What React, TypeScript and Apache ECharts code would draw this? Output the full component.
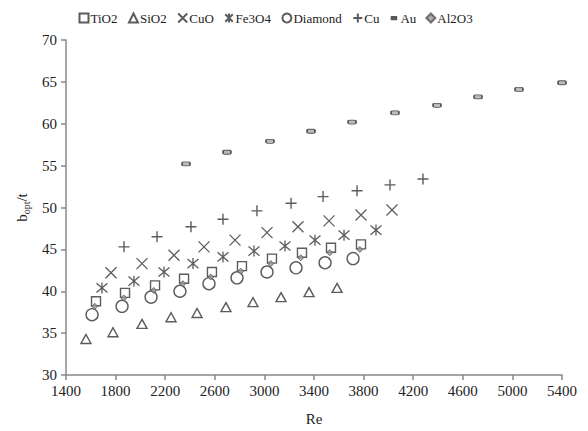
import React, { useEffect, useRef } from "react";
import * as echarts from "echarts";

const xTicksMin = 1400;
const xTicksMax = 5400;
const yMin = 30;
const yMax = 70;

const tio2Re = [1642, 1876, 2118, 2352, 2577, 2819, 3061, 3303, 3537, 3779];
const tio2B = [38.8, 39.8, 40.7, 41.5, 42.3, 43.0, 43.9, 44.6, 45.2, 45.6];

const sio2Re = [1561, 1779, 2013, 2247, 2457, 2690, 2908, 3134, 3360, 3586];
const sio2B = [34.3, 35.1, 36.1, 36.9, 37.4, 38.1, 38.7, 39.3, 39.9, 40.4];

const cuoRe = [1763, 2013, 2271, 2513, 2763, 3021, 3271, 3521, 3779, 4029];
const cuoB = [42.2, 43.3, 44.3, 45.3, 46.1, 47.0, 47.7, 48.4, 49.1, 49.7];

const fe3o4Re = [1690, 1948, 2190, 2424, 2666, 2916, 3166, 3408, 3642, 3900];
const fe3o4B = [40.4, 41.2, 42.3, 43.3, 44.1, 44.8, 45.4, 46.1, 46.7, 47.3];

const diamondRe = [1610, 1852, 2086, 2319, 2553, 2779, 3021, 3255, 3489, 3715];
const diamondB = [37.2, 38.2, 39.3, 40.0, 40.9, 41.6, 42.3, 42.8, 43.4, 43.9];

const cuRe = [1868, 2134, 2408, 2666, 2940, 3215, 3473, 3747, 4013, 4279];
const cuB = [45.3, 46.5, 47.7, 48.6, 49.6, 50.5, 51.3, 52.0, 52.7, 53.4];

const auRe = [2368, 2698, 3045, 3376, 3707, 4053, 4392, 4723, 5053, 5400];
const auB = [55.2, 56.6, 57.9, 59.1, 60.2, 61.3, 62.2, 63.2, 64.1, 64.9];

const al2o3Re = [1632, 1866, 2108, 2342, 2567, 2809, 3051, 3293, 3527, 3769];
const al2o3B = [38.2, 39.2, 40.1, 40.9, 41.7, 42.4, 43.3, 44.0, 44.6, 45.0];

const seriesNames = ["TiO2", "SiO2", "CuO", "Fe3O4", "Diamond", "Cu", "Au", "Al2O3"];

const pair = (xs: number[], ys: number[]) => xs.map((x, i) => [x, ys[i]]);

const INK = "#333";
const FONT = "'Liberation Serif', 'Times New Roman', serif";

const crossPath = "path://M0,0L10,10M10,0L0,10";
const starPath = "path://M0,0L10,10M10,0L0,10M5,-1L5,11";
const plusPath = "path://M5,0L5,10M0,5L10,5";
const auLegendIcon = "path://M0,0M10,10M2.5,4L7.5,4L7.5,6.5L2.5,6.5Z";

export default function App() {
  const ref = useRef<HTMLDivElement>(null);
  useEffect(() => {
    if (!ref.current) return;
    const chart = echarts.init(ref.current, undefined, { renderer: "svg" });
    const stroke = (w = 1.4) => ({ color: "none", borderColor: INK, borderWidth: w });
    chart.setOption({
      animation: false,
      backgroundColor: "#fff",
      textStyle: { fontFamily: FONT },
      legend: {
        left: 72,
        top: 6,
        itemWidth: 9,
        itemHeight: 9,
        itemGap: 9,
        textStyle: { fontFamily: FONT, fontSize: 13, color: "#222", padding: [0, 0, 0, -3] },
        data: seriesNames.map((n) =>
          n === "Au" ? { name: n, icon: auLegendIcon } : { name: n }
        ),
      },
      grid: { left: 66, right: 26, top: 40, bottom: 56, containLabel: false },
      xAxis: {
        type: "value",
        min: xTicksMin,
        max: xTicksMax,
        interval: 400,
        name: "Re",
        nameLocation: "middle",
        nameGap: 36,
        nameTextStyle: { fontFamily: FONT, fontSize: 15, color: "#222" },
        axisLine: { lineStyle: { color: "#888", width: 1.5 } },
        axisTick: { show: true, length: 5, lineStyle: { color: "#888", width: 1.5 } },
        axisLabel: {
          fontFamily: FONT, fontSize: 15, color: "#222", margin: 8,
          formatter: (v: number) => String(v),
        },
        splitLine: { show: false },
      },
      yAxis: {
        type: "value",
        min: yMin,
        max: yMax,
        interval: 5,
        name: "{b|b}{s|opt}{b|/t}",
        nameLocation: "middle",
        nameGap: 35,
        nameTextStyle: {
          fontFamily: FONT,
          color: "#222",
          rich: {
            b: { fontFamily: FONT, fontSize: 15, lineHeight: 18, color: "#222" },
            s: { fontFamily: FONT, fontSize: 10, lineHeight: 18, verticalAlign: "bottom", color: "#222" },
          },
        },
        axisLine: { show: true, lineStyle: { color: "#888", width: 1.5 } },
        axisTick: { show: true, length: 5, lineStyle: { color: "#888", width: 1.5 } },
        axisLabel: {
          fontFamily: FONT, fontSize: 15, color: "#222", margin: 9,
          formatter: (v: number) => String(v),
        },
        splitLine: { show: false },
      },
      series: [
        {
          name: "Diamond", type: "scatter", data: pair(diamondRe, diamondB),
          symbol: "circle", symbolSize: 12, itemStyle: stroke(1.4), z: 2,
        },
        {
          name: "TiO2", type: "scatter", data: pair(tio2Re, tio2B),
          symbol: "rect", symbolSize: 9, itemStyle: stroke(1.4), z: 3,
        },
        {
          name: "SiO2", type: "scatter", data: pair(sio2Re, sio2B),
          symbol: "triangle", symbolSize: [10, 9], itemStyle: stroke(1.4), z: 3,
        },
        {
          name: "CuO", type: "scatter", data: pair(cuoRe, cuoB),
          symbol: crossPath, symbolSize: 11, itemStyle: stroke(1.3), z: 3,
        },
        {
          name: "Fe3O4", type: "scatter", data: pair(fe3o4Re, fe3o4B),
          symbol: starPath, symbolSize: 11, itemStyle: stroke(1.3), z: 3,
        },
        {
          name: "Cu", type: "scatter", data: pair(cuRe, cuB),
          symbol: plusPath, symbolSize: 11, itemStyle: stroke(1.4), z: 3,
        },
        {
          name: "Au", type: "scatter", data: pair(auRe, auB),
          symbol: "roundRect", symbolSize: [8, 4],
          itemStyle: { color: "#aaa", borderColor: INK, borderWidth: 1.2 }, z: 3,
        },
        {
          name: "Al2O3", type: "scatter", data: pair(al2o3Re, al2o3B),
          symbol: "diamond", symbolSize: 6,
          itemStyle: { color: "#999", borderColor: "#555", borderWidth: 1 }, z: 4,
        },
      ],
    });
    return () => chart.dispose();
  }, []);
  return (
    <div
      ref={ref}
      style={{ position: "fixed", left: 0, top: 0, width: 588, height: 431 }}
    />
  );
}
